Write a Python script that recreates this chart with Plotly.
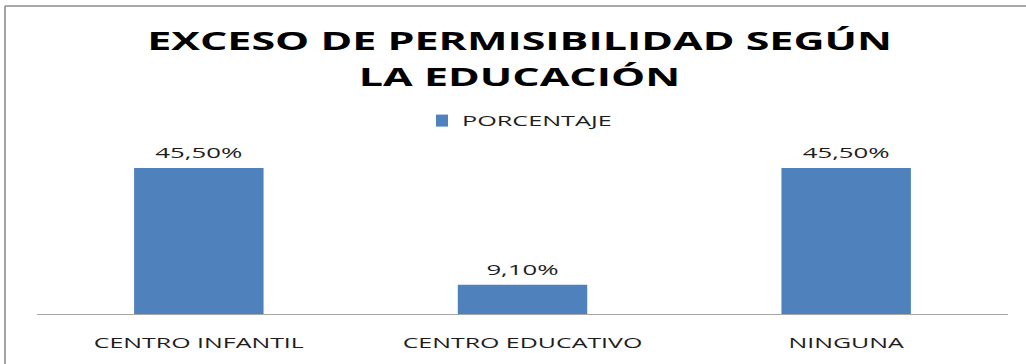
import plotly.graph_objects as go

# Chart data
categories = ["CENTRO INFANTIL", "CENTRO EDUCATIVO", "NINGUNA"]
porcentaje = [45.5, 9.1, 45.5]
series_name = "PORCENTAJE"
title_lines = ["EXCESO DE PERMISIBILIDAD SEGÚN", "LA EDUCACIÓN"]

W, H = 1026, 364
bar_color = "#4F81BD"
text_color = "#1E1E1E"
font_family = "Open Sans"

labels = [f"{v:.2f}%".replace(".", ",") for v in porcentaje]

fig = go.Figure()
fig.add_trace(go.Bar(
    x=categories,
    y=porcentaje,
    name=series_name,
    marker=dict(color=bar_color, line=dict(width=0)),
    width=0.4,
    text=labels,
    textposition="outside",
    textfont=dict(family=font_family, size=15, color=text_color),
    cliponaxis=False,
    showlegend=True,
))

title_annotations = [
    dict(
        text=f"<b>{line}</b>",
        x=519 / W, y=(H - yc) / H,
        xref="paper", yref="paper",
        xanchor="center", yanchor="middle",
        showarrow=False,
        font=dict(family=font_family, size=25, color="#000000"),
    )
    for line, yc in zip(title_lines, [40, 76])
]

fig.update_layout(
    width=W,
    height=H,
    autosize=False,
    margin=dict(l=0, r=0, t=0, b=0),
    paper_bgcolor="white",
    plot_bgcolor="white",
    showlegend=True,
    legend=dict(
        orientation="h",
        x=422 / W, xanchor="left",
        y=(H - 121) / H, yanchor="middle",
        font=dict(family=font_family, size=14, color=text_color),
        bgcolor="rgba(0,0,0,0)",
        itemwidth=30,
    ),
    xaxis=dict(
        domain=[37 / W, 1008 / W],
        showline=True,
        linecolor="#A6A6A6",
        linewidth=1,
        showgrid=False,
        ticks="",
        tickfont=dict(family=font_family, size=14, color=text_color),
        ticklabelstandoff=16,
    ),
    yaxis=dict(
        domain=[(H - 314) / H, (H - 121.5) / H],
        range=[0, 60],
        visible=False,
        showgrid=False,
    ),
    bargap=0.6,
    annotations=title_annotations,
    shapes=[
        # Chart frame: left and top edges
        dict(type="line", xref="paper", yref="paper",
             x0=5 / W, x1=5 / W, y0=0, y1=(H - 6) / H,
             line=dict(color="#8C8C8C", width=1.6)),
        dict(type="line", xref="paper", yref="paper",
             x0=5 / W, x1=1, y0=(H - 6) / H, y1=(H - 6) / H,
             line=dict(color="#8C8C8C", width=1.6)),
    ],
)

# Horizontally widened lettering: scale each text around its anchor point
stretch_js = """
var gd = document.getElementById('{plot_id}');
function stretch(sel, s, fromLeft, dy) {
  gd.querySelectorAll(sel).forEach(function (t) {
    var b = t.getBBox();
    var cx = fromLeft ? b.x : b.x + b.width / 2;
    var T = t.getAttribute('transform') || '';
    t.setAttribute('transform', T + ' translate(' + cx + ',' + (dy || 0) + ') scale(' + s + ',1) translate(' + (-cx) + ',0)');
  });
}
gd.querySelectorAll('.legend .scrollbox').forEach(function (g) { g.removeAttribute('clip-path'); });
stretch('.annotation-text', 1.72, false, 0);
stretch('.xtick text', 1.78, false, 0);
stretch('.legendtext', 1.8, true, 0);
stretch('.bartext', 1.72, false, -3);
"""

fig.write_html("out.html", post_script=stretch_js)
